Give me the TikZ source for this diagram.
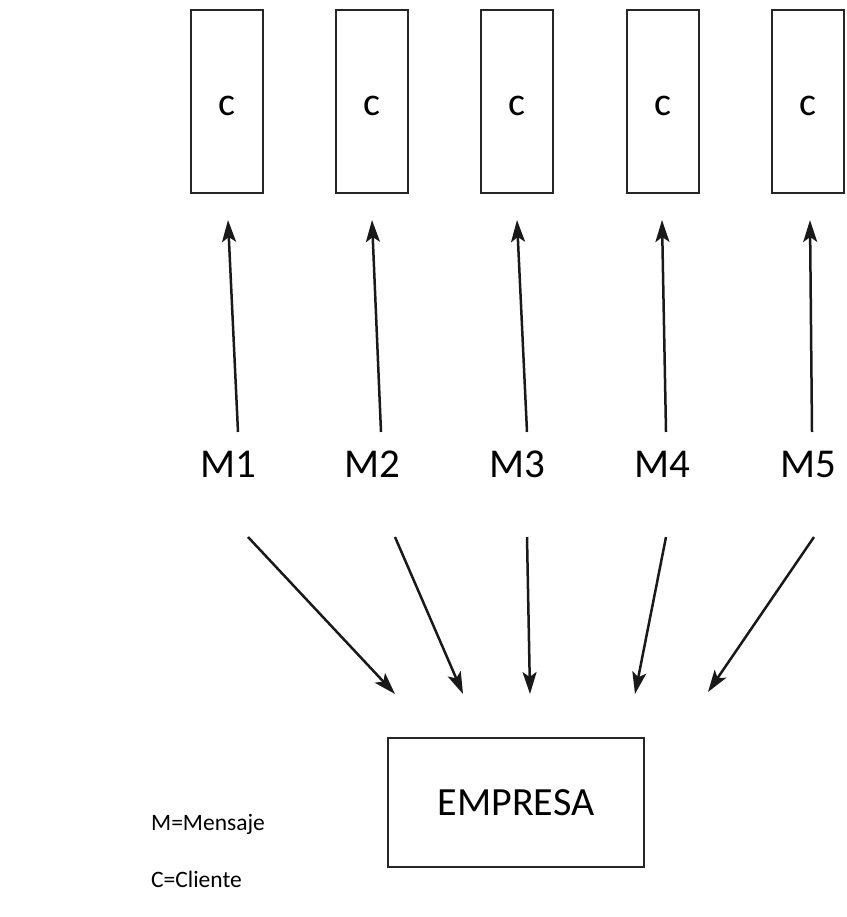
\documentclass[tikz,border=0pt]{standalone}
\usepackage{fontspec}
\setmainfont{Carlito}
\usetikzlibrary{arrows.meta}
\begin{document}
\begin{tikzpicture}[x=1pt,y=-1pt,
  client/.style={draw=black!85,line width=1.3pt,minimum width=72pt,minimum height=183pt,inner sep=0pt},
  company/.style={draw=black!85,line width=1.3pt,minimum width=256pt,minimum height=129pt,inner sep=0pt,font=\fontsize{40}{44}\selectfont},
  msg/.style={inner sep=0pt,font=\fontsize{41}{44}\selectfont},
  legend/.style={inner sep=0pt,anchor=west,font=\fontsize{23.5}{26}\selectfont},
  link/.style={draw=black!90,line width=2.5pt,-{Stealth[length=22pt,width=14pt,inset=5pt]}}]
\useasboundingbox (0,0) rectangle (846,917);

% client boxes with their letter
\node[client] (c1) at (227,101.5) {};
\node[client] (c2) at (372,101.5) {};
\node[client] (c3) at (517,101.5) {};
\node[client] (c4) at (663,101.5) {};
\node[client] (c5) at (808,101.5) {};
\foreach \i in {1,...,5}
  \node[inner sep=0pt,font=\fontsize{40}{42}\selectfont] (t\i) at ([yshift=-4pt]c\i.center) {c};

% messages
\node[msg] (m1) at (228,464) {M1};
\node[msg] (m2) at (372,464) {M2};
\node[msg] (m3) at (517,464) {M3};
\node[msg] (m4) at (662,464) {M4};
\node[msg] (m5) at (808,464) {M5};

% company
\node[company] (emp) at (516,802.5) {EMPRESA};

% legend
\node[legend] (lm) at (151,824) {M=Mensaje};
\node[legend] (lc) at (151,879) {C=Cliente};

% arrow end points
\coordinate (u1s) at (238,432); \coordinate (u1e) at (228,220);
\coordinate (u2s) at (381,432); \coordinate (u2e) at (372,220);
\coordinate (u3s) at (527,432); \coordinate (u3e) at (517,220);
\coordinate (u4s) at (666,432); \coordinate (u4e) at (662,220);
\coordinate (u5s) at (812,432); \coordinate (u5e) at (810,220);

\coordinate (d1s) at (248,537); \coordinate (d1e) at (395,694);
\coordinate (d2s) at (395,537); \coordinate (d2e) at (463,694);
\coordinate (d3s) at (527,537); \coordinate (d3e) at (530,694);
\coordinate (d4s) at (666,537); \coordinate (d4e) at (635,694);
\coordinate (d5s) at (814,537); \coordinate (d5e) at (708,692);

% messages to clients
\foreach \i in {1,...,5} \draw[link] (u\i s) -- (u\i e);
% messages from the company
\foreach \i in {1,...,5} \draw[link] (d\i s) -- (d\i e);
\end{tikzpicture}
\end{document}
